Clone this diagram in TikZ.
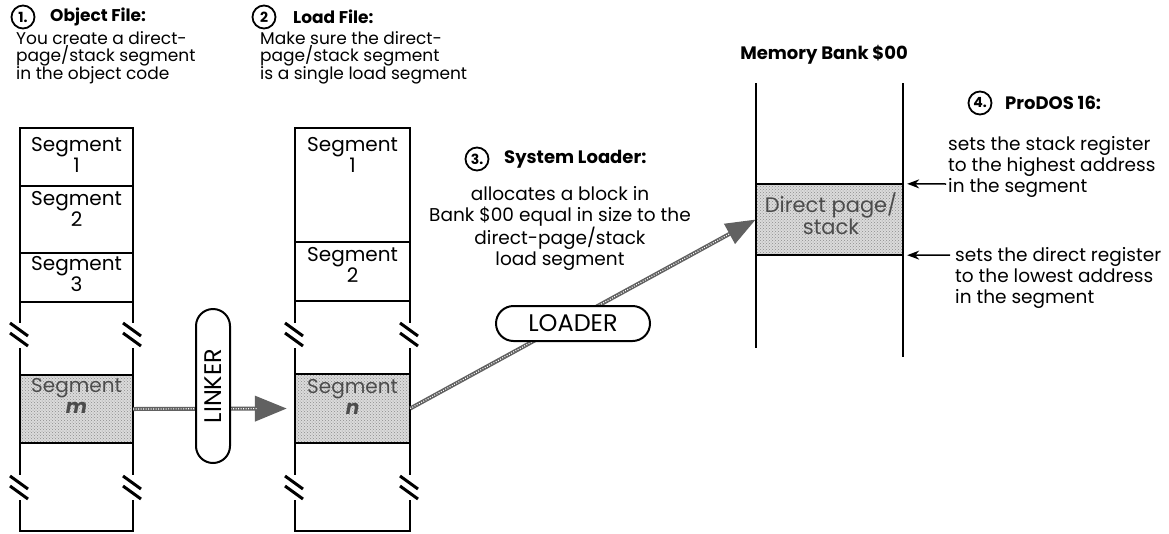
\documentclass[tikz,border=0pt]{standalone}
\usepackage{fontspec}
\setmainfont{Poppins}
\usetikzlibrary{arrows.meta,patterns,shapes.misc}
\begin{document}
\begin{tikzpicture}[x=1pt,y=-1pt,
  colline/.style={line width=2pt},
  divider/.style={line width=2.5pt},
  brk/.style={line width=3pt},
  numcirc/.style={circle,draw,line width=1.8pt,minimum size=23pt,inner sep=0pt,font=\bfseries\fontsize{14}{14}\selectfont},
  head/.style={anchor=west,inner sep=0pt,font=\bfseries\fontsize{17}{18}\selectfont},
  headbig/.style={anchor=west,inner sep=0pt,font=\bfseries\fontsize{18}{19}\selectfont},
  bodytxt/.style={align=left,inner sep=0pt,font=\fontsize{17}{16}\selectfont},
  bodywide/.style={inner sep=0pt,font=\fontsize{18.5}{21}\selectfont},
  seglabel/.style={align=center,inner sep=0pt,anchor=north,font=\fontsize{20}{21}\selectfont},
  shaded/.style={fill=gray!28,postaction={pattern=crosshatch dots,pattern color=black!45},inner sep=0pt},
  capsule/.style={rounded rectangle,draw,line width=2pt,fill=white,inner sep=0pt,font=\fontsize{24}{24}\selectfont},
  garrow/.style={line width=4pt,draw=black!62,fill=black!62},
  texture/.style={draw=white,line width=1.2pt,dash pattern=on 0.9pt off 1.6pt},
  smallarrow/.style={line width=1.5pt,-{Stealth[length=12pt,width=9pt]},shorten >=4pt}
]
\useasboundingbox (0,0) rectangle (1169,533);

% ---------- headings ----------
\node[numcirc] (n1) at (23,17) {1.};
\node[head] (h1) at (50,17) {Object File:};
\node[bodytxt,anchor=north west] (b1) at (16,31) {You create a direct-\\page/stack segment\\in the object code};

\node[numcirc] (n2) at (264,17) {2};
\node[head] (h2) at (293,17) {Load File:};
\node[bodytxt,anchor=north west] (b2) at (260,31) {Make sure the direct-\\page/stack segment\\is a single load segment};

\node[numcirc] (n3) at (477,159) {3.};
\node[headbig] (h3) at (504,159) {System Loader:};
\node[bodywide,align=center,anchor=north] (b3) at (560,186) {allocates a block in\\Bank \$00 equal in size to the\\direct-page/stack\\load segment};

\node[headbig,anchor=center] (mbt) at (824,55) {Memory Bank \$00};

\node[numcirc] (n4) at (980,103) {4.};
\node[headbig] (h4) at (1005,103) {ProDOS 16:};
\node[bodywide,align=left,anchor=north west] (b4a) at (948,136) {sets the stack register\\to the highest address\\in the segment};
\node[bodywide,align=left,anchor=north west] (b4b) at (955,247) {sets the direct register\\to the lowest address\\in the segment};

% ---------- shaded segments ----------
\node[shaded,minimum width=113pt,minimum height=68pt] (segm) at (76.5,409) {};
\node[shaded,minimum width=115pt,minimum height=69pt] (segn) at (352.5,408.5) {};
\node[shaded,minimum width=147pt,minimum height=71pt] (dps) at (829.5,219.5) {};

% ---------- column 1 ----------
\draw[colline] (20,128) -- (20,323) (20,348) -- (20,475) (20,500) -- (20,531);
\draw[colline] (133,128) -- (133,323) (133,348) -- (133,475) (133,500) -- (133,531);
\foreach \Y in {128,186,253,302,375,443,531} \draw[divider] (19,\Y) -- (134,\Y);

% ---------- column 2 ----------
\draw[colline] (295,128) -- (295,323) (295,348) -- (295,475) (295,500) -- (295,531);
\draw[colline] (410,128) -- (410,323) (410,348) -- (410,475) (410,500) -- (410,531);
\foreach \Y in {128,242,301,374,443,531} \draw[divider] (294,\Y) -- (411,\Y);

% ---------- break marks ----------
\foreach \X in {20,133,295,410} \foreach \C in {335,488} {
  \draw[brk] ({\X-10},{\C-12}) -- ({\X+8},{\C+1});
  \draw[brk] ({\X-10},{\C-2}) -- ({\X+8},{\C+11});
}

% ---------- segment labels ----------
\node[seglabel] (l11) at (76.5,137) {Segment\\1};
\node[seglabel] (l12) at (76.5,191) {Segment\\2};
\node[seglabel] (l13) at (76.5,256) {Segment\\3};
\node[seglabel,text=black!70] (l1m) at (76.5,378) {Segment\\\textbf{\itshape m}};
\node[seglabel] (l21) at (352.5,137) {Segment\\1};
\node[seglabel] (l22) at (352.5,247) {Segment\\2};
\node[seglabel,text=black!70] (l2n) at (352.5,379) {Segment\\\textbf{\itshape n}};

% ---------- memory bank ----------
\draw[colline] (756,83) -- (756,348);
\draw[colline] (903,83) -- (903,357);
\draw[divider] (dps.north west) -- (dps.north east);
\draw[divider] (dps.south west) -- (dps.south east);
\node[align=center,inner sep=0pt,text=black!70,font=\fontsize{21}{20}\selectfont] (dpl) at (831,214) {Direct page/\\stack};

% ---------- arrows ----------
\draw[garrow,-{Triangle[length=32pt,width=25pt]},shorten >=8pt,
      postaction={texture,-,shorten >=38pt}] (segm.east) -- (segn.west);
\draw[garrow,-{Triangle[length=30pt,width=22pt]},
      postaction={texture,-,shorten >=30pt}] (segn.east) -- (dps.west);

\node[capsule,rotate=90,minimum width=154pt,minimum height=34pt] (linker) at (213,386) {LINKER};
\node[capsule,minimum width=154pt,minimum height=35pt] (loader) at (573,323.5) {LOADER};

\coordinate (hiA) at (946,184);
\coordinate (loA) at (950,255);
\draw[smallarrow] (hiA) -- (dps.north east);
\draw[smallarrow] (loA) -- (dps.south east);
\end{tikzpicture}
\end{document}
